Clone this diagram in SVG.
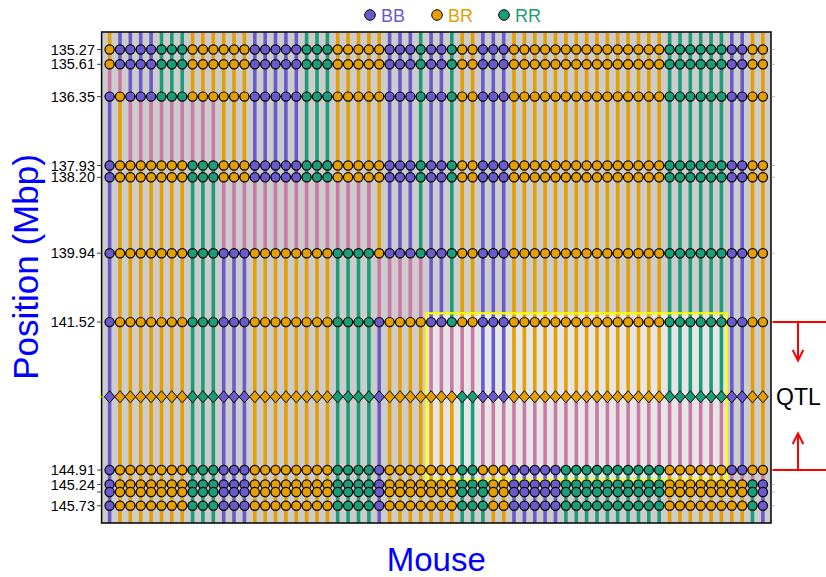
<svg xmlns="http://www.w3.org/2000/svg" xmlns:xlink="http://www.w3.org/1999/xlink" width="826" height="577" viewBox="0 0 826 577">
<style>
.ln{fill:none;stroke-width:3.6}
.h{stroke:#E69F00}.b{stroke:#6A5ACD}.r{stroke:#1B9E77}.p{stroke:#CC79A7}
.ol{fill:none;stroke:#000;stroke-width:10.4;stroke-linecap:round;stroke-dasharray:.01 10.36}
.dt{fill:none;stroke-width:8;stroke-linecap:round;stroke-dasharray:.01 10.36}
.fh{fill:#E69F00}.fb{fill:#6A5ACD}.fr{fill:#1B9E77}
.tk{font-family:"Liberation Sans",Arial,sans-serif;font-size:14.5px;fill:#000;text-anchor:end}
.ttl{font-family:"Liberation Sans",Arial,sans-serif;fill:#0000FF;text-anchor:middle}
.lg{font-family:"Liberation Sans",Arial,sans-serif;font-size:18px}
.red{fill:none;stroke:#FF0000;stroke-width:2}
</style>
<defs>
<path id="dm" d="M0-6 5.3 0 0 6-5.3 0Z" stroke="#000" stroke-width="1"/>
<g id="rowA">
<path class="ol" d="M109.6 0h653.33"/>
<path class="dt h" d="M109.6 0h.02M192.6 0h51.87M337.7 0h41.5M462.2 0h10.39M514 0h145.2M752.5 0h10.39"/>
<path class="dt b" d="M120 0h31.13M254.8 0h41.5M389.6 0h20.76M431.1 0h10.39M482.9 0h20.76M731.8 0h10.39"/>
<path class="dt r" d="M161.5 0h20.76M306.6 0h20.76M420.7 0h.02M451.8 0h.02M669.6 0h51.87"/>
</g>
<g id="rowB">
<path class="ol" d="M109.6 0h653.33"/>
<path class="dt h" d="M120 0h.02M192.6 0h51.87M337.7 0h41.5M462.2 0h10.39M514 0h145.2M752.5 0h10.39"/>
<path class="dt b" d="M109.6 0h.02M130.3 0h20.76M254.8 0h41.5M389.6 0h20.76M431.1 0h10.39M482.9 0h20.76M731.8 0h10.39"/>
<path class="dt r" d="M161.5 0h20.76M306.6 0h20.76M420.7 0h.02M451.8 0h.02M669.6 0h51.87"/>
</g>
<g id="rowC">
<path class="ol" d="M109.6 0h653.33"/>
<path class="dt h" d="M120 0h62.24M223.7 0h20.76M337.7 0h41.5M462.2 0h10.39M514 0h145.2M752.5 0h10.39"/>
<path class="dt b" d="M109.6 0h.02M254.8 0h41.5M389.6 0h20.76M431.1 0h10.39M482.9 0h20.76M731.8 0h10.39"/>
<path class="dt r" d="M192.6 0h20.76M306.6 0h20.76M420.7 0h.02M451.8 0h.02M669.6 0h51.87"/>
</g>
<g id="rowD">
<path class="ol" d="M109.6 0h653.33"/>
<path class="dt h" d="M120 0h62.24M254.8 0h72.61M379.2 0h.02M462.2 0h10.39M514 0h145.2M752.5 0h10.39"/>
<path class="dt b" d="M109.6 0h.02M223.7 0h20.76M389.6 0h20.76M431.1 0h10.39M482.9 0h20.76M731.8 0h10.39"/>
<path class="dt r" d="M192.6 0h20.76M337.7 0h31.13M420.7 0h.02M451.8 0h.02M669.6 0h51.87"/>
</g>
<g id="rowE">
<path class="ol" d="M109.6 0h653.33"/>
<path class="dt h" d="M120 0h62.24M254.8 0h72.61M389.6 0h31.13M462.2 0h10.39M514 0h145.2M752.5 0h10.39"/>
<path class="dt b" d="M109.6 0h.02M223.7 0h20.76M379.2 0h.02M431.1 0h10.39M482.9 0h20.76M731.8 0h10.39"/>
<path class="dt r" d="M192.6 0h20.76M337.7 0h31.13M451.8 0h.02M669.6 0h51.87"/>
</g>
<g id="rowF">
<path class="ol" d="M109.6 0h653.33"/>
<path class="dt h" d="M120 0h62.24M254.8 0h72.61M389.6 0h62.24M482.9 0h20.76M669.6 0h51.87M752.5 0h10.39"/>
<path class="dt b" d="M109.6 0h.02M223.7 0h20.76M379.2 0h.02M514 0h41.5M731.8 0h10.39"/>
<path class="dt r" d="M192.6 0h20.76M337.7 0h31.13M462.2 0h10.39M565.9 0h93.35"/>
</g>
<g id="rowG">
<path class="ol" d="M109.6 0h653.33"/>
<path class="dt h" d="M120 0h62.24M254.8 0h72.61M389.6 0h62.24M493.3 0h10.39M669.6 0h72.61"/>
<path class="dt b" d="M109.6 0h.02M223.7 0h20.76M379.2 0h.02M514 0h41.5M762.9 0h.02"/>
<path class="dt r" d="M192.6 0h20.76M337.7 0h31.13M462.2 0h20.76M565.9 0h93.35M752.5 0h.02"/>
</g>
</defs>
<rect width="826" height="577" fill="#FFFFFF"/>

<g id="legend">
<circle cx="370" cy="15" r="5.3" class="fb" stroke="#000" stroke-width="1"/>
<text x="381" y="21.5" class="lg" fill="#6A5ACD">BB</text>
<circle cx="437" cy="15" r="5.3" class="fh" stroke="#000" stroke-width="1"/>
<text x="448" y="21.5" class="lg" fill="#E69F00">BR</text>
<circle cx="504" cy="15" r="5.3" class="fr" stroke="#000" stroke-width="1"/>
<text x="515" y="21.5" class="lg" fill="#1B9E77">RR</text>
</g>

<g id="plot-background">
<rect x="101.6" y="32" width="669.4" height="491" fill="#CCCCCC"/>
<rect x="426.3" y="313.3" width="300.3" height="166.7" fill="#E6E6E6"/>
</g>

<g id="genotype-lines" class="ln">
<path class="h" d="M109.6 32V64.3M120 96.6V523M130.3 165.5V523M140.7 165.5V523M151.1 165.5V523M161.5 165.5V523M171.8 165.5V523M182.2 165.5V523M192.6 32V96.6M202.9 32V96.6M213.3 32V96.6M223.7 32V177.3M234 32V177.3M244.4 32V177.3M254.8 253.2V523M265.2 253.2V523M275.5 253.2V523M285.9 253.2V523M296.3 253.2V523M306.6 253.2V523M317 253.2V523M327.4 253.2V523M337.7 32V177.3M348.1 32V177.3M358.5 32V177.3M368.9 32V177.3M379.2 32V253.2M389.6 322.1V523M400 322.1V523M410.3 322.1V523M420.7 322.1V523M431.1 396.8V523M441.4 396.8V523M451.8 396.8V523M462.2 32V322.1M472.6 32V322.1M493.3 470V523M503.7 470V523M514 32V396.8M524.4 32V396.8M534.8 32V396.8M545.1 32V396.8M555.5 32V396.8M565.9 32V396.8M576.3 32V396.8M586.6 32V396.8M597 32V396.8M607.4 32V396.8M617.7 32V396.8M628.1 32V396.8M638.5 32V396.8M648.8 32V396.8M659.2 32V396.8M669.6 470V523M680 470V523M690.3 470V523M700.7 470V523M711.1 470V523M721.4 470V523M731.8 484.4V523M742.2 484.4V523M752.5 32V470M762.9 32V470"/>
<path class="b" d="M109.6 96.6V523M120 32V64.3M130.3 32V96.6M140.7 32V96.6M151.1 32V96.6M223.7 253.2V523M234 253.2V523M244.4 253.2V523M254.8 32V177.3M265.2 32V177.3M275.5 32V177.3M285.9 32V177.3M296.3 32V177.3M379.2 322.1V523M389.6 32V253.2M400 32V253.2M410.3 32V253.2M431.1 32V322.1M441.4 32V322.1M482.9 32V396.8M493.3 32V396.8M503.7 32V396.8M514 470V523M524.4 470V523M534.8 470V523M545.1 470V523M555.5 470V523M731.8 32V470M742.2 32V470M762.9 484.4V523"/>
<path class="r" d="M161.5 32V96.6M171.8 32V96.6M182.2 32V96.6M192.6 165.5V523M202.9 165.5V523M213.3 165.5V523M306.6 32V177.3M317 32V177.3M327.4 32V177.3M337.7 253.2V523M348.1 253.2V523M358.5 253.2V523M368.9 253.2V523M420.7 32V253.2M451.8 32V322.1M462.2 396.8V523M472.6 396.8V523M482.9 484.4V523M565.9 470V523M576.3 470V523M586.6 470V523M597 470V523M607.4 470V523M617.7 470V523M628.1 470V523M638.5 470V523M648.8 470V523M659.2 470V523M669.6 32V396.8M680 32V396.8M690.3 32V396.8M700.7 32V396.8M711.1 32V396.8M721.4 32V396.8M752.5 484.4V523"/>
<path class="p" d="M109.6 64.3V96.6M120 64.3V96.6M130.3 96.6V165.5M140.7 96.6V165.5M151.1 96.6V165.5M161.5 96.6V165.5M171.8 96.6V165.5M182.2 96.6V165.5M192.6 96.6V165.5M202.9 96.6V165.5M213.3 96.6V165.5M223.7 177.3V253.2M234 177.3V253.2M244.4 177.3V253.2M254.8 177.3V253.2M265.2 177.3V253.2M275.5 177.3V253.2M285.9 177.3V253.2M296.3 177.3V253.2M306.6 177.3V253.2M317 177.3V253.2M327.4 177.3V253.2M337.7 177.3V253.2M348.1 177.3V253.2M358.5 177.3V253.2M368.9 177.3V253.2M379.2 253.2V322.1M389.6 253.2V322.1M400 253.2V322.1M410.3 253.2V322.1M420.7 253.2V322.1M431.1 322.1V396.8M441.4 322.1V396.8M451.8 322.1V396.8M462.2 322.1V396.8M472.6 322.1V396.8M482.9 396.8V484.4M493.3 396.8V470M503.7 396.8V470M514 396.8V470M524.4 396.8V470M534.8 396.8V470M545.1 396.8V470M555.5 396.8V470M565.9 396.8V470M576.3 396.8V470M586.6 396.8V470M597 396.8V470M607.4 396.8V470M617.7 396.8V470M628.1 396.8V470M638.5 396.8V470M648.8 396.8V470M659.2 396.8V470M669.6 396.8V470M680 396.8V470M690.3 396.8V470M700.7 396.8V470M711.1 396.8V470M721.4 396.8V470M731.8 470V484.4M742.2 470V484.4M752.5 470V484.4M762.9 470V484.4"/>
</g>

<rect id="qtl-box" x="426.3" y="313.3" width="300.3" height="166.7" fill="none" stroke="#FFFF00" stroke-width="2.2"/>

<g id="markers">
<use href="#rowA" y="49.5"/>
<use href="#rowA" y="64.3"/>
<use href="#rowB" y="96.6"/>
<use href="#rowC" y="165.5"/>
<use href="#rowC" y="177.3"/>
<use href="#rowD" y="253.2"/>
<use href="#rowE" y="322.1"/>
<g id="peak-row" transform="translate(0 396.8)">
<g class="fb"><use href="#dm" x="109.6"/><use href="#dm" x="223.7"/><use href="#dm" x="234"/><use href="#dm" x="244.4"/><use href="#dm" x="379.2"/><use href="#dm" x="482.9"/><use href="#dm" x="493.3"/><use href="#dm" x="503.7"/><use href="#dm" x="731.8"/><use href="#dm" x="742.2"/></g>
<g class="fh"><use href="#dm" x="120"/><use href="#dm" x="130.3"/><use href="#dm" x="140.7"/><use href="#dm" x="151.1"/><use href="#dm" x="161.5"/><use href="#dm" x="171.8"/><use href="#dm" x="182.2"/><use href="#dm" x="254.8"/><use href="#dm" x="265.2"/><use href="#dm" x="275.5"/><use href="#dm" x="285.9"/><use href="#dm" x="296.3"/><use href="#dm" x="306.6"/><use href="#dm" x="317"/><use href="#dm" x="327.4"/><use href="#dm" x="389.6"/><use href="#dm" x="400"/><use href="#dm" x="410.3"/><use href="#dm" x="420.7"/><use href="#dm" x="431.1"/><use href="#dm" x="441.4"/><use href="#dm" x="451.8"/><use href="#dm" x="514"/><use href="#dm" x="524.4"/><use href="#dm" x="534.8"/><use href="#dm" x="545.1"/><use href="#dm" x="555.5"/><use href="#dm" x="565.9"/><use href="#dm" x="576.3"/><use href="#dm" x="586.6"/><use href="#dm" x="597"/><use href="#dm" x="607.4"/><use href="#dm" x="617.7"/><use href="#dm" x="628.1"/><use href="#dm" x="638.5"/><use href="#dm" x="648.8"/><use href="#dm" x="659.2"/><use href="#dm" x="752.5"/><use href="#dm" x="762.9"/></g>
<g class="fr"><use href="#dm" x="192.6"/><use href="#dm" x="202.9"/><use href="#dm" x="213.3"/><use href="#dm" x="337.7"/><use href="#dm" x="348.1"/><use href="#dm" x="358.5"/><use href="#dm" x="368.9"/><use href="#dm" x="462.2"/><use href="#dm" x="472.6"/><use href="#dm" x="669.6"/><use href="#dm" x="680"/><use href="#dm" x="690.3"/><use href="#dm" x="700.7"/><use href="#dm" x="711.1"/><use href="#dm" x="721.4"/></g>
</g>
<use href="#rowF" y="470"/>
<use href="#rowG" y="484.4"/>
<use href="#rowG" y="492"/>
<use href="#rowG" y="505.8"/>
</g>

<g id="frame">
<rect x="101.6" y="32" width="669.4" height="491" fill="none" stroke="#000" stroke-width="1.5"/>
<path d="M97 49.5h4.6M97 64.3h4.6M97 96.6h4.6M97 165.5h4.6M97 177.3h4.6M97 253.2h4.6M97 322.1h4.6M97 470h4.6M97 484.4h4.6M97 492h4.6M97 505.8h4.6" stroke="#444" stroke-width="1"/>
<path d="M98.5 396.8h3" stroke="#FFFF00" stroke-width="2"/>
<path d="M771.8 49.5h3M771.8 64.3h3M771.8 96.6h3M771.8 165.5h3M771.8 177.3h3M771.8 253.2h3M771.8 484.4h3M771.8 492h3M771.8 505.8h3" stroke="#BBBBBB" stroke-width="1"/>
</g>

<g id="y-axis">
<text class="tk" x="95" y="54.6">135.27</text>
<text class="tk" x="95" y="69.4">135.61</text>
<text class="tk" x="95" y="101.7">136.35</text>
<text class="tk" x="95" y="170.6">137.93</text>
<text class="tk" x="95" y="182.4">138.20</text>
<text class="tk" x="95" y="258.3">139.94</text>
<text class="tk" x="95" y="327.2">141.52</text>
<text class="tk" x="95" y="475.1">144.91</text>
<text class="tk" x="95" y="489.5">145.24</text>
<text class="tk" x="95" y="510.9">145.73</text>
<text class="ttl" font-size="35" transform="translate(38 267) rotate(-90)">Position (Mbp)</text>
</g>

<text id="x-title" class="ttl" font-size="33" x="436.3" y="571">Mouse</text>

<g id="qtl">
<path class="red" d="M772.5 322.1H826M772.5 470H826M798 322.1V360M792.7 350L798 360.5 803.3 350M798 470V434M792.7 444L798 433.5 803.3 444"/>
<text x="776" y="405" font-family="'Liberation Sans',Arial,sans-serif" font-size="23" fill="#000">QTL</text>
</g>
</svg>
